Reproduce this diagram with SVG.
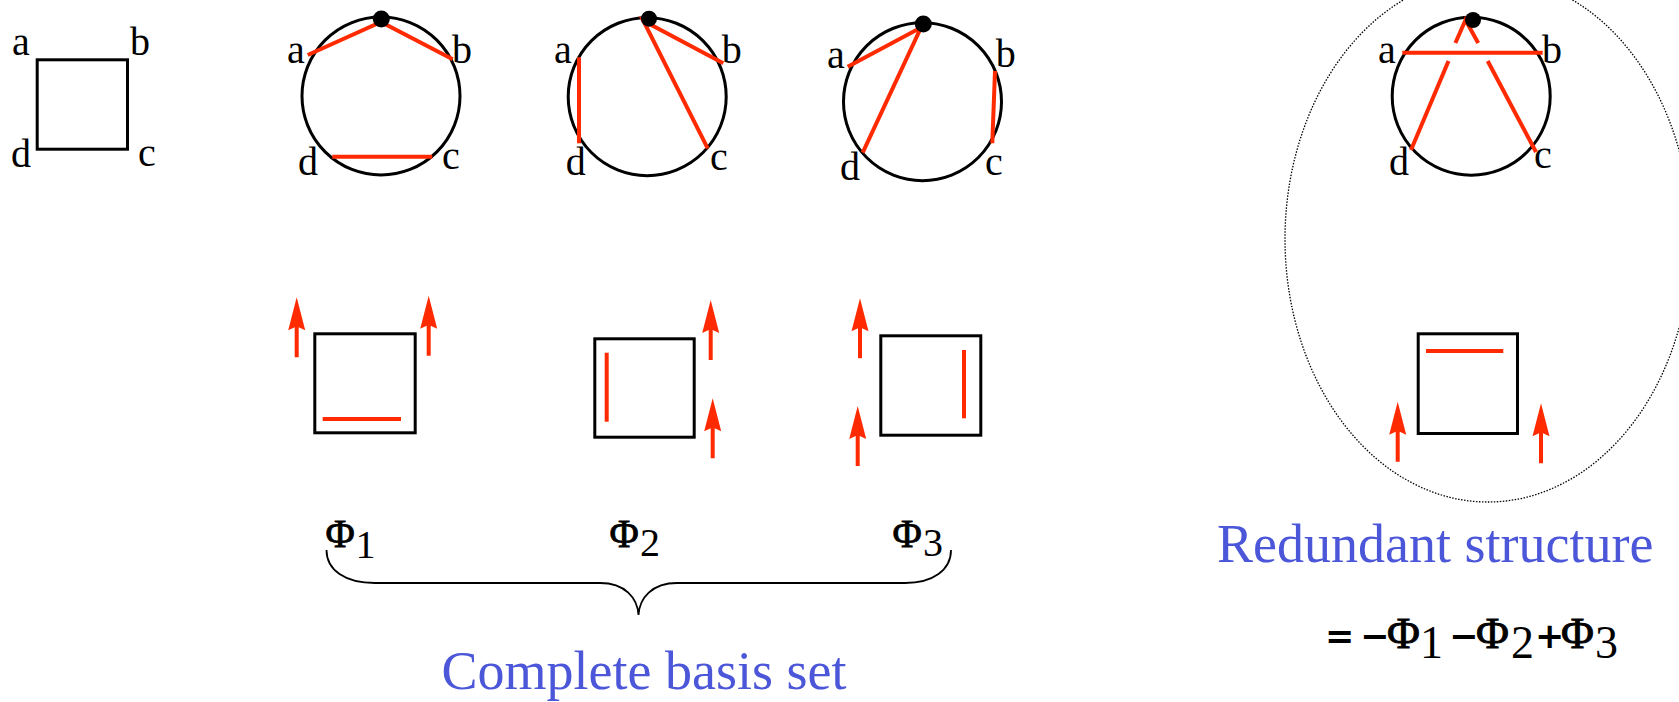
<svg xmlns="http://www.w3.org/2000/svg" xmlns:xlink="http://www.w3.org/1999/xlink" width="1679" height="702" viewBox="0 0 1679 702">
<style>
.bk{fill:none;stroke:#000;stroke-width:3}
.rd{fill:none;stroke:#FF2A00;stroke-width:4}
.dot{fill:#000}
.lbl{font-family:"Liberation Serif","Times New Roman",serif;font-size:40px;fill:#000}
.phi{font-family:"Liberation Serif","Times New Roman",serif;font-size:40px;fill:#000;stroke:#000;stroke-width:0.8}
.sub{font-size:40px;stroke:none}
.eq{font-family:"Liberation Serif","Times New Roman",serif;font-size:46px;fill:#000}
.ph{font-size:45px;stroke:#000;stroke-width:0.9}
.op{font-family:"DejaVu Sans",sans-serif;font-size:35px;font-weight:bold}
.blue{font-family:"Liberation Serif","Times New Roman",serif;font-size:54px;fill:#4B56D8}
.arrow{fill:#FF2A00}
</style>
<defs>
<path id="arr" class="arrow" d="M0,0 L8.5,33 L2,30 L2,60 L-2,60 L-2,30 L-8.5,33 Z"/>
</defs>
<rect width="1679" height="702" fill="#fff"/>

<g id="square-abcd">
<rect class="bk" x="37.2" y="59.8" width="90.3" height="89.4"/>
<text class="lbl" x="12" y="55">a</text>
<text class="lbl" x="130" y="55">b</text>
<text class="lbl" x="11" y="167">d</text>
<text class="lbl" x="138" y="166">c</text>
</g>

<g id="circle1">
<circle class="bk" cx="381" cy="96" r="79"/>
<polyline class="rd" points="307.7,55 381,22 452.7,59.3"/>
<line class="rd" x1="332.3" y1="156.7" x2="432.3" y2="156.7"/>
<circle class="dot" cx="381.3" cy="19" r="8.5"/>
<text class="lbl" x="287" y="63">a</text>
<text class="lbl" x="452" y="63">b</text>
<text class="lbl" x="298" y="175">d</text>
<text class="lbl" x="442" y="169">c</text>
</g>

<g id="circle2">
<circle class="bk" cx="647.2" cy="96.7" r="79"/>
<line class="rd" x1="579" y1="57.3" x2="579" y2="143.3"/>
<polyline class="rd" points="723.3,63.3 643.3,20.7 707.7,148.3"/>
<circle class="dot" cx="649" cy="18.7" r="8"/>
<text class="lbl" x="554" y="63">a</text>
<text class="lbl" x="721.7" y="63">b</text>
<text class="lbl" x="565.7" y="175">d</text>
<text class="lbl" x="710" y="170">c</text>
</g>

<g id="circle3">
<circle class="bk" cx="922.5" cy="101.7" r="79"/>
<polyline class="rd" points="847.7,66.7 921,27.5 862.7,152.7"/>
<line class="rd" x1="995" y1="71" x2="992.3" y2="143.3"/>
<circle class="dot" cx="923.3" cy="24" r="8.5"/>
<text class="lbl" x="827" y="68">a</text>
<text class="lbl" x="995.7" y="67">b</text>
<text class="lbl" x="840" y="180">d</text>
<text class="lbl" x="985" y="175">c</text>
</g>

<g id="circle4">
<circle class="bk" cx="1471.2" cy="96.2" r="79"/>
<line class="rd" x1="1402.3" y1="52.7" x2="1542.7" y2="52.7"/>
<polyline class="rd" points="1455.4,43 1465.5,20 1478.2,43"/>
<line class="rd" x1="1448.5" y1="61" x2="1411" y2="150"/>
<line class="rd" x1="1487.7" y1="61" x2="1536" y2="152"/>
<circle class="dot" cx="1473" cy="20" r="8"/>
<text class="lbl" x="1378" y="63">a</text>
<text class="lbl" x="1542" y="63">b</text>
<text class="lbl" x="1389" y="175">d</text>
<text class="lbl" x="1534" y="168">c</text>
</g>

<g id="phi1-structure">
<rect class="bk" x="314.8" y="333.8" width="100.4" height="99"/>
<line class="rd" x1="322.7" y1="419" x2="401" y2="419"/>
<use xlink:href="#arr" x="296.7" y="297.3"/>
<use xlink:href="#arr" x="428.7" y="295.7"/>
</g>

<g id="phi2-structure">
<rect class="bk" x="594.8" y="338.8" width="99.4" height="98.4"/>
<line class="rd" x1="606.7" y1="352.7" x2="606.7" y2="421.7"/>
<use xlink:href="#arr" x="710.7" y="300"/>
<use xlink:href="#arr" x="712.7" y="398.3"/>
</g>

<g id="phi3-structure">
<rect class="bk" x="880.8" y="335.8" width="100" height="99.4"/>
<line class="rd" x1="964" y1="350" x2="964" y2="418.3"/>
<use xlink:href="#arr" x="860" y="298.3"/>
<use xlink:href="#arr" x="857.7" y="406"/>
</g>

<g id="redundant-structure">
<ellipse cx="1488" cy="239" rx="203" ry="263" fill="none" stroke="#000" stroke-width="1.3" stroke-dasharray="1.5 1.5"/>
<rect class="bk" x="1418.2" y="333.8" width="99.3" height="99.7"/>
<line class="rd" x1="1426" y1="351" x2="1503.3" y2="351"/>
<use xlink:href="#arr" x="1397.7" y="401.7"/>
<use xlink:href="#arr" x="1541" y="403.3"/>
</g>

<g id="phi-labels">
<text class="phi" x="325.5" y="547">Φ<tspan class="sub" x="355.5" y="558">1</tspan></text>
<text class="phi" x="609.5" y="547">Φ<tspan class="sub" x="640" y="556">2</tspan></text>
<text class="phi" x="892.5" y="547">Φ<tspan class="sub" x="923" y="556">3</tspan></text>
</g>

<g id="connectors">
<path d="M326.5,550 C326.5,570 345,583 375,583 L600,583 C625,583 637.5,598 638.5,615 C639.5,598 652,583 677,583 L905,583 C933,583 951,570 951,550" fill="none" stroke="#000" stroke-width="1.8"/>
</g>

<g id="captions">
<text class="blue" x="644" y="689" text-anchor="middle">Complete basis set</text>
<text class="blue" x="1217" y="562">Redundant structure</text>
</g>

<g id="equation">
<text class="eq" x="1327" y="647"><tspan class="op" x="1325" y="648">=</tspan><tspan class="op" x="1360" y="648">−</tspan><tspan class="ph" x="1387" y="648">Φ</tspan><tspan x="1420" y="658">1</tspan><tspan class="op" x="1449" y="648">−</tspan><tspan class="ph" x="1476" y="648">Φ</tspan><tspan x="1511" y="658">2</tspan><tspan class="op" x="1535" y="648">+</tspan><tspan class="ph" x="1561" y="648">Φ</tspan><tspan x="1595" y="658">3</tspan></text>
</g>
</svg>
